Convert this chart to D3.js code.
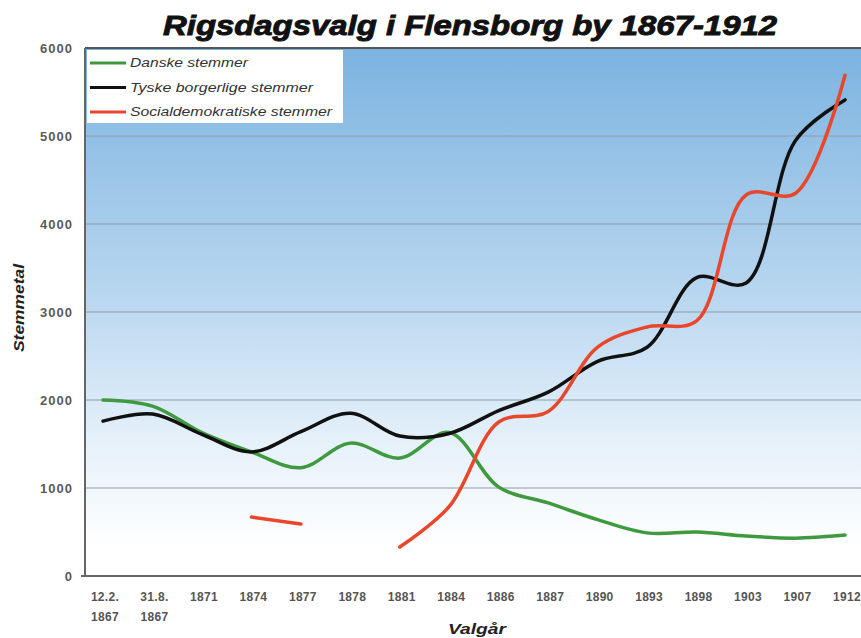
<!DOCTYPE html>
<html lang="da">
<head>
<meta charset="utf-8">
<title>Rigsdagsvalg i Flensborg by 1867-1912</title>
<style>
  body { margin: 0; background: #fff; font-family: "Liberation Sans", Arial, sans-serif; }
  svg { display: block; }
</style>
</head>
<body>
<script src="https://cdn.jsdelivr.net/npm/d3@7"></script>
<script>
// election years (first two are split onto two lines)
var years = ["12.2.|1867", "31.8.|1867", "1871", "1874", "1877", "1878", "1881", "1884",
             "1886", "1887", "1890", "1893", "1898", "1903", "1907", "1912"];
var danske = [2000, 1930, 1630, 1410, 1230, 1510, 1340, 1630, 1010, 830, 640, 490, 500, 455, 430, 465];
var tyske  = [1760, 1840, 1610, 1410, 1640, 1850, 1590, 1620, 1880, 2090, 2440, 2600, 3390, 3330, 4950, 5410];
var socdem = [null, null, null, 670, 590, null, 330, 790, 1750, 1870, 2600, 2830, 2900, 4330, 4350, 5690];
var yTicks = [0, 1000, 2000, 3000, 4000, 5000, 6000];
var seriesNames = ["Danske stemmer", "Tyske borgerlige stemmer", "Socialdemokratiske stemmer"];
var seriesColors = ["#3f9a3f", "#111111", "#e8472c"];
var legendWidths = [118, 183, 202];

var w = 861, h = 638;
var plotLeft = 85, plotTop = 48, plotBottom = 576, plotRight = 861;

var svg = d3.select("body").append("svg")
    .attr("width", w)
    .attr("height", h);

// background gradient of the plot area
var grad = svg.append("defs").append("linearGradient")
    .attr("id", "bg").attr("x1", 0).attr("y1", 0).attr("x2", 0).attr("y2", 1);
grad.append("stop").attr("offset", "0%").attr("stop-color", "#7cb3e0");
grad.append("stop").attr("offset", "45%").attr("stop-color", "#b6d5ef");
grad.append("stop").attr("offset", "75%").attr("stop-color", "#e6f1fa");
grad.append("stop").attr("offset", "95%").attr("stop-color", "#ffffff");

var x = d3.scalePoint().domain(years).range([103, 845]);
var y = d3.scaleLinear().domain([0, 6000]).range([plotBottom, plotTop]);

svg.append("rect")
    .attr("x", plotLeft).attr("y", plotTop)
    .attr("width", plotRight - plotLeft).attr("height", plotBottom - plotTop)
    .attr("fill", "url(#bg)");

// gridlines
svg.append("g").selectAll("line")
    .data(yTicks.filter(function(d) { return d > 0 && d < 6000; }))
    .enter().append("line")
    .attr("x1", plotLeft).attr("x2", plotRight)
    .attr("y1", function(d) { return y(d); })
    .attr("y2", function(d) { return y(d); })
    .attr("stroke", "#8d9aa8")
    .attr("stroke-width", 1);

// frame: top, left, bottom
svg.append("line").attr("x1", plotLeft).attr("x2", plotRight).attr("y1", plotTop).attr("y2", plotTop)
    .attr("stroke", "#555").attr("stroke-width", 2);
svg.append("line").attr("x1", plotLeft).attr("x2", plotLeft).attr("y1", plotTop).attr("y2", plotBottom)
    .attr("stroke", "#666").attr("stroke-width", 2);
svg.append("line").attr("x1", plotLeft - 4).attr("x2", plotRight).attr("y1", plotBottom).attr("y2", plotBottom)
    .attr("stroke", "#666").attr("stroke-width", 2);

// y tick labels
svg.append("g").selectAll("text")
    .data(yTicks)
    .enter().append("text")
    .attr("x", 73)
    .attr("y", function(d) { return y(d) + 5; })
    .attr("text-anchor", "end")
    .attr("font-size", 13)
    .attr("font-weight", "bold")
    .attr("letter-spacing", 1)
    .attr("fill", "#5a5a5a")
    .text(function(d) { return d; });

// x tick labels
var xl = svg.append("g").selectAll("text")
    .data(years)
    .enter().append("text")
    .attr("x", function(d) { return x(d); })
    .attr("y", 601)
    .attr("text-anchor", "middle")
    .attr("font-size", 12)
    .attr("font-weight", "bold")
    .attr("letter-spacing", 0.3)
    .attr("fill", "#555");
xl.each(function(d) {
    var parts = d.split("|");
    var t = d3.select(this);
    parts.forEach(function(p, i) {
        t.append("tspan")
            .attr("x", x(d) + 2)
            .attr("dy", i === 0 ? 0 : 20)
            .text(p);
    });
});

// axis titles
svg.append("text")
    .attr("x", 477).attr("y", 634)
    .attr("text-anchor", "middle")
    .attr("font-size", 14)
    .attr("font-weight", "bold")
    .attr("font-style", "italic")
    .attr("fill", "#222")
    .attr("textLength", 58)
    .attr("lengthAdjust", "spacingAndGlyphs")
    .text("Valgår");

svg.append("text")
    .attr("transform", "translate(24,308) rotate(-90)")
    .attr("text-anchor", "middle")
    .attr("font-size", 14)
    .attr("font-weight", "bold")
    .attr("font-style", "italic")
    .attr("fill", "#222")
    .attr("textLength", 88)
    .attr("lengthAdjust", "spacingAndGlyphs")
    .text("Stemmetal");

// title
svg.append("text")
    .attr("x", 470).attr("y", 35)
    .attr("text-anchor", "middle")
    .attr("font-size", 27)
    .attr("font-weight", "bold")
    .attr("font-style", "italic")
    .attr("fill", "#111")
    .attr("stroke", "#111")
    .attr("stroke-width", 0.9)
    .attr("textLength", 614)
    .attr("lengthAdjust", "spacingAndGlyphs")
    .text("Rigsdagsvalg i Flensborg by 1867-1912");

// series lines
var line = d3.line()
    .defined(function(d) { return d != null; })
    .x(function(d, i) { return x(years[i]); })
    .y(function(d) { return y(d); })
    .curve(d3.curveCatmullRom.alpha(0.5));

[danske, tyske, socdem].forEach(function(s, k) {
    svg.append("path")
        .datum(s)
        .attr("d", line)
        .attr("fill", "none")
        .attr("stroke", seriesColors[k])
        .attr("stroke-width", 3.5)
        .attr("stroke-linecap", "round");
});

// legend
var lg = svg.append("g");
lg.append("rect")
    .attr("x", 87).attr("y", 50)
    .attr("width", 256).attr("height", 73)
    .attr("fill", "#fff");
seriesNames.forEach(function(n, i) {
    var yy = 63 + i * 24.5;
    lg.append("line")
        .attr("x1", 90).attr("x2", 126)
        .attr("y1", yy).attr("y2", yy)
        .attr("stroke", seriesColors[i])
        .attr("stroke-width", 3);
    lg.append("text")
        .attr("x", 130).attr("y", yy + 4)
        .attr("font-size", 12)
        .attr("font-style", "italic")
        .attr("fill", "#333")
        .attr("textLength", legendWidths[i])
        .attr("lengthAdjust", "spacingAndGlyphs")
        .text(n);
});
</script>
</body>
</html>
